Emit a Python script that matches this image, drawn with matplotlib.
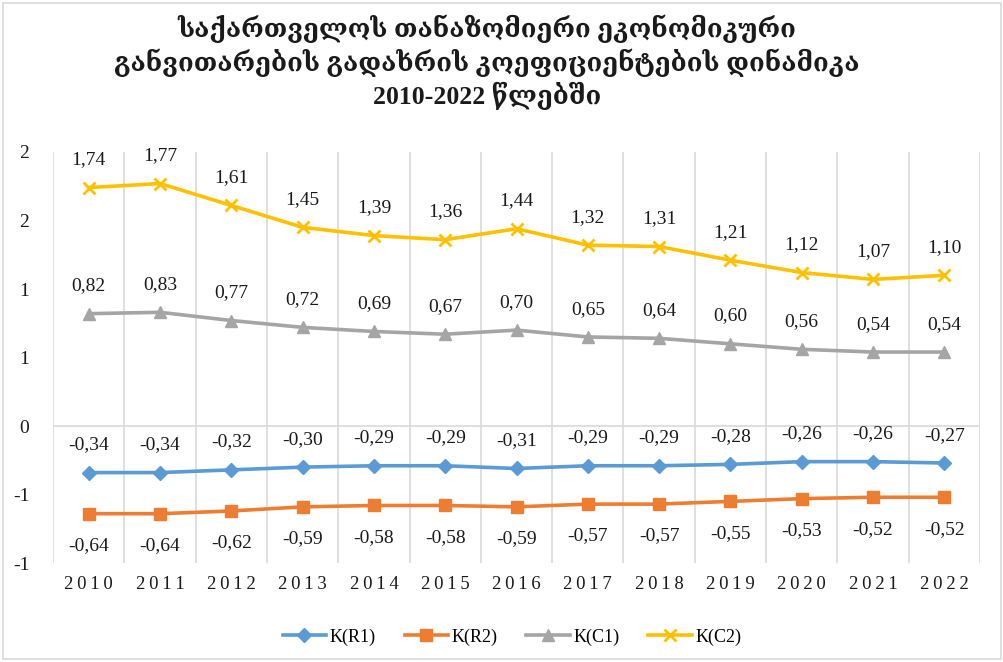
import numpy as np
import matplotlib.pyplot as plt
from matplotlib.ticker import FixedLocator, FuncFormatter
from decimal import Decimal, ROUND_HALF_UP

years = [2010, 2011, 2012, 2013, 2014, 2015, 2016, 2017, 2018, 2019, 2020, 2021, 2022]
k_r1 = [-0.34, -0.34, -0.32, -0.30, -0.29, -0.29, -0.31, -0.29, -0.29, -0.28, -0.26, -0.26, -0.27]
k_r2 = [-0.64, -0.64, -0.62, -0.59, -0.58, -0.58, -0.59, -0.57, -0.57, -0.55, -0.53, -0.52, -0.52]
k_c1 = [0.82, 0.83, 0.77, 0.72, 0.69, 0.67, 0.70, 0.65, 0.64, 0.60, 0.56, 0.54, 0.54]
k_c2 = [1.74, 1.77, 1.61, 1.45, 1.39, 1.36, 1.44, 1.32, 1.31, 1.21, 1.12, 1.07, 1.10]
y_ticks = [-1.0, -0.5, 0.0, 0.5, 1.0, 1.5, 2.0]

title = ("საქართველოს თანაზომიერი ეკონომიკური\n"
         "განვითარების გადახრის კოეფიციენტების დინამიკა\n"
         "2010-2022 წლებში")

serif = ['Liberation Serif', 'DejaVu Serif']
geo = ['DejaVu Serif Condensed', 'Liberation Serif', 'DejaVu Serif', 'DejaVu Sans']
plt.rcParams['font.family'] = serif

fig = plt.figure(figsize=(10.04, 6.62), dpi=100)
ax = fig.add_axes([0.0528, 0.1495, 0.9233, 0.6209])

# chart area border
fig.patches.append(plt.Rectangle((0.003, 0.004), 0.994, 0.992, transform=fig.transFigure,
                                 fill=False, edgecolor='#D9D9D9', linewidth=1.2))

x = np.arange(len(years))
series = [
    ('K(R1)', k_r1, '#5B9BD5', 'D', 7, 20, 'up'),
    ('K(R2)', k_r2, '#ED7D31', 's', 9, 20, 'down'),
    ('K(C1)', k_c1, '#A5A5A5', '^', 8, 20, 'up'),
    ('K(C2)', k_c2, '#FFC000', 'x', 9, 20, 'up'),
]

for name, vals, col, mk, ms, off, side in series:
    kw = dict(markeredgewidth=2) if mk == 'x' else {}
    ax.plot(x, vals, color=col, linewidth=2.6, marker=mk, markersize=ms,
            label=name, zorder=3, **kw)
    for xi, v in zip(x, vals):
        dy = off if side == 'up' else -off - 3
        ax.annotate(f"{v:.2f}".replace('.', ','), (xi, v), xytext=(0, dy),
                    textcoords='offset points', ha='center', va='center',
                    fontsize=14, color='#1a1a1a')

ax.set_xlim(-0.5, len(years) - 0.5)
ax.set_ylim(-1, 2)

ax.xaxis.set_minor_locator(FixedLocator(np.arange(-0.5, len(years), 1.0)))
ax.grid(which='minor', axis='x', color='#D9D9D9', linewidth=1.2)
ax.axhline(0, color='#D9D9D9', linewidth=1.2, zorder=1)

ax.set_xticks(x)
ax.set_xticklabels(['\u2009'.join(str(y)) for y in years], fontsize=13.5)
ax.tick_params(axis='x', which='both', length=0, pad=9, colors='#1a1a1a')


def excel_round(v, pos):
    return str(int(Decimal(str(v)).quantize(Decimal('1'), rounding=ROUND_HALF_UP)))


ax.yaxis.set_major_locator(FixedLocator(y_ticks))
ax.yaxis.set_major_formatter(FuncFormatter(excel_round))
ax.tick_params(axis='y', length=0, pad=17, labelsize=14, colors='#1a1a1a')

for s in ax.spines.values():
    s.set_visible(False)

fig.text(0.485, 0.978, title, ha='center', va='top', fontsize=18.5, fontweight='bold',
         family=geo, linespacing=1.22, color='#1a1a1a')

leg = fig.legend(loc='center', bbox_to_anchor=(0.51, 0.038), ncol=4, frameon=False,
                 fontsize=13, handlelength=2.4, columnspacing=1.6, handletextpad=0.2)

fig.savefig('out.png', dpi=100)
